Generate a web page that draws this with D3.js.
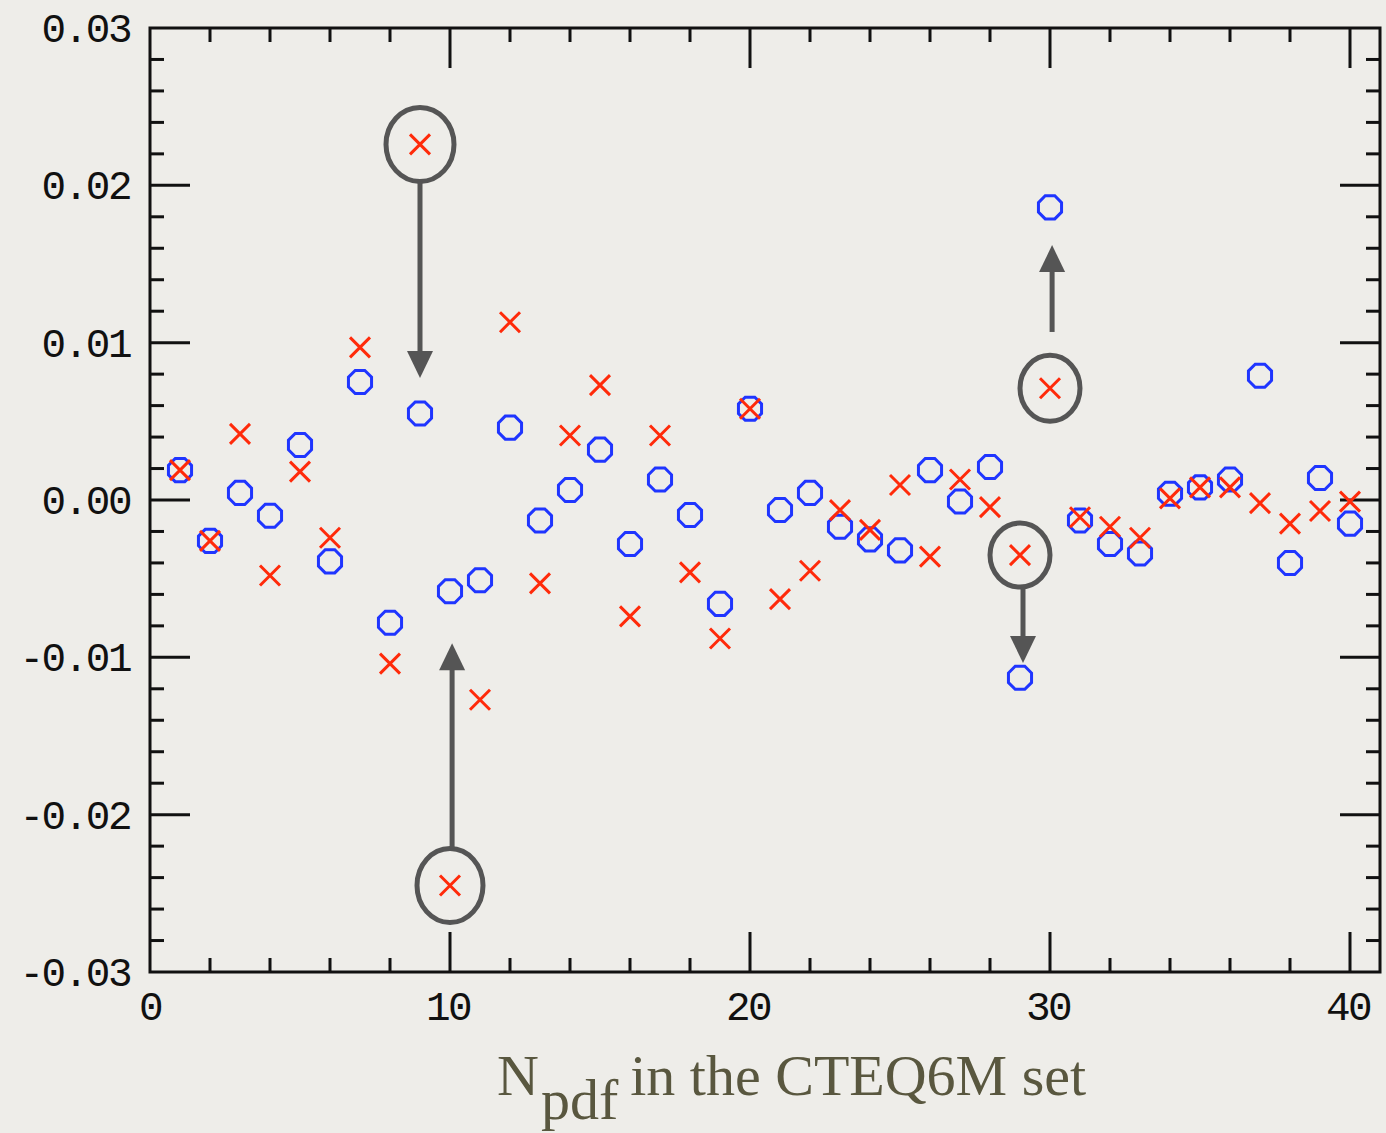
<!DOCTYPE html>
<html>
<head>
<meta charset="utf-8">
<script src="https://cdn.jsdelivr.net/npm/d3@7"></script>
<style>
  html, body { margin: 0; padding: 0; background: #eeede9; }
  svg { display: block; }
</style>
</head>
<body>
<svg id="chart" width="1386" height="1133"></svg>
<script>
// ---------- data ----------
const nPdf = d3.range(1, 41);
const blueValues = [
  0.0019, -0.0026, 0.00045, -0.0010, 0.0035, -0.0039, 0.0075, -0.0078, 0.0055, -0.0058,
  -0.0051, 0.0046, -0.0013, 0.00064, 0.0032, -0.0028, 0.0013, -0.00095, -0.0066, 0.0058,
  -0.00064, 0.00045, -0.0017, -0.0025, -0.0032, 0.0019, -0.0001, 0.0021, -0.0113, 0.0186,
  -0.0013, -0.0028, -0.0034, 0.0004, 0.0008, 0.0013, 0.0079, -0.0040, 0.0014, -0.0015
];
const redValues = [
  0.0019, -0.0026, 0.0042, -0.0048, 0.0018, -0.0024, 0.0097, -0.0104, 0.0226, -0.0245,
  -0.0127, 0.0113, -0.0053, 0.0041, 0.0073, -0.0074, 0.0041, -0.0046, -0.0088, 0.0058,
  -0.0063, -0.0045, -0.00064, -0.0019, 0.00095, -0.0036, 0.0013, -0.00045, -0.0035, 0.0071,
  -0.0011, -0.0017, -0.0024, 0.0001, 0.0008, 0.0008, -0.0002, -0.0015, -0.0007, -0.0001
];
const xTickLabels = [0, 10, 20, 30, 40];
const yTickLabels = [-0.03, -0.02, -0.01, 0.00, 0.01, 0.02, 0.03];
// highlighted red points (index n) with arrow target value and direction
const highlights = [
  { n: 9,  rx: 34, ry: 37, arrowX: 9.0,  from: "bottom", tip: 0.00775 },
  { n: 10, rx: 33, ry: 37, arrowX: 10.07, from: "top",    tip: -0.0091 },
  { n: 30, rx: 30, ry: 33, arrowX: 30.07, from: "topgap", tip: 0.0162, start: 0.01068 },
  { n: 29, rx: 30, ry: 32, arrowX: 29.1,  from: "bottom", tip: -0.01036 }
];

// ---------- layout ----------
const svg = d3.select("#chart");
const pL = 150, pT = 28, pR = 1380, pB = 972;
const x = d3.scaleLinear().domain([0, 41]).range([pL, pR]);
const y = d3.scaleLinear().domain([-0.03, 0.03]).range([pB, pT]);

const axisColor = "#111";
const g = svg.append("g");

// frame
g.append("rect")
  .attr("x", pL).attr("y", pT)
  .attr("width", pR - pL).attr("height", pB - pT)
  .attr("fill", "none").attr("stroke", axisColor).attr("stroke-width", 3);

// ticks (inward, all four sides)
const majLen = 40, minLen = 14;
const xMinor = d3.range(2, 41, 2);
const xMajor = [10, 20, 30, 40];
const yMinor = d3.range(-14, 15).map(i => i * 0.002).filter(v => Math.abs(v) < 0.0299);
const yMajor = [-0.02, -0.01, 0, 0.01, 0.02];

function isMajorX(v) { return xMajor.includes(v); }
function isMajorY(v) { return yMajor.some(m => Math.abs(m - v) < 1e-9); }

const tg = g.append("g").attr("stroke", axisColor).attr("stroke-width", 3);
xMinor.forEach(v => {
  const L = isMajorX(v) ? majLen : minLen;
  tg.append("line").attr("x1", x(v)).attr("x2", x(v)).attr("y1", pB).attr("y2", pB - L);
  tg.append("line").attr("x1", x(v)).attr("x2", x(v)).attr("y1", pT).attr("y2", pT + L);
});
yMinor.forEach(v => {
  const L = isMajorY(v) ? majLen : minLen;
  tg.append("line").attr("y1", y(v)).attr("y2", y(v)).attr("x1", pL).attr("x2", pL + L);
  tg.append("line").attr("y1", y(v)).attr("y2", y(v)).attr("x1", pR).attr("x2", pR - L);
});

// tick labels
const tickFont = "'Liberation Mono', 'DejaVu Sans Mono', monospace";
g.selectAll(".ylab").data(yTickLabels).enter().append("text")
  .attr("x", pL - 20)
  .attr("y", d => y(d) + 14)
  .attr("text-anchor", "end")
  .attr("font-family", tickFont).attr("font-size", 41)
  .attr("letter-spacing", -2.5)
  .attr("fill", "#111")
  .text(d => d3.format(".2f")(d).replace("−", "-"));
g.selectAll(".xlab").data(xTickLabels).enter().append("text")
  .attr("x", d => x(d) + (d === 0 ? 0 : -2))
  .attr("y", pB + 48)
  .attr("text-anchor", "middle")
  .attr("font-family", tickFont).attr("font-size", 41)
  .attr("letter-spacing", -2.5)
  .attr("fill", "#111")
  .text(d => d);

// ---------- markers ----------
const blueColor = "#1f35ff", redColor = "#ff2a0a";
const octR = 12.5;
const octPts = d3.range(8).map(i => {
  const a = Math.PI / 8 + i * Math.PI / 4;
  return [octR * Math.cos(a), octR * Math.sin(a)];
});
const octPath = "M" + octPts.map(p => p.join(",")).join("L") + "Z";

g.append("g").selectAll("path").data(nPdf).enter().append("path")
  .attr("transform", (d, i) => `translate(${x(d)},${y(blueValues[i])})`)
  .attr("d", octPath)
  .attr("fill", "none").attr("stroke", blueColor).attr("stroke-width", 3);

const cs = 10;
const crossPath = `M${-cs},${-cs}L${cs},${cs}M${-cs},${cs}L${cs},${-cs}`;
g.append("g").selectAll("path").data(nPdf).enter().append("path")
  .attr("transform", (d, i) => `translate(${x(d)},${y(redValues[i])})`)
  .attr("d", crossPath)
  .attr("fill", "none").attr("stroke", redColor).attr("stroke-width", 3);

// ---------- annotations ----------
const annColor = "#555555";
const ag = g.append("g");
highlights.forEach(h => {
  const cx = x(h.n), cy = y(redValues[h.n - 1]);
  ag.append("ellipse").attr("cx", cx).attr("cy", cy)
    .attr("rx", h.rx).attr("ry", h.ry)
    .attr("fill", "none").attr("stroke", annColor).attr("stroke-width", 5);
  const ax = x(h.arrowX);
  let y0;
  if (h.from === "bottom") y0 = cy + h.ry;
  else if (h.from === "top") y0 = cy - h.ry;
  else y0 = y(h.start);
  const y1 = y(h.tip);
  const dir = Math.sign(y1 - y0);
  const headL = 27, headW = 13;
  const baseY = y1 - dir * headL;
  ag.append("line").attr("x1", ax).attr("x2", ax).attr("y1", y0).attr("y2", baseY + dir * 2)
    .attr("stroke", annColor).attr("stroke-width", 5);
  ag.append("path")
    .attr("d", `M${ax},${y1}L${ax - headW},${baseY}L${ax + headW},${baseY}Z`)
    .attr("fill", annColor);
});

// ---------- x-axis title ----------
const title = svg.append("text")
  .attr("x", 497).attr("y", 1095)
  .attr("font-family", "'Liberation Serif', 'DejaVu Serif', serif")
  .attr("font-size", 58)
  .attr("fill", "#59573f");
title.append("tspan").text("N");
title.append("tspan").attr("dy", 24).attr("dx", 2).attr("font-size", 58).text("pdf");
title.append("tspan").attr("dy", -24).attr("dx", 12).text("in the CTEQ6M set");
</script>
</body>
</html>
